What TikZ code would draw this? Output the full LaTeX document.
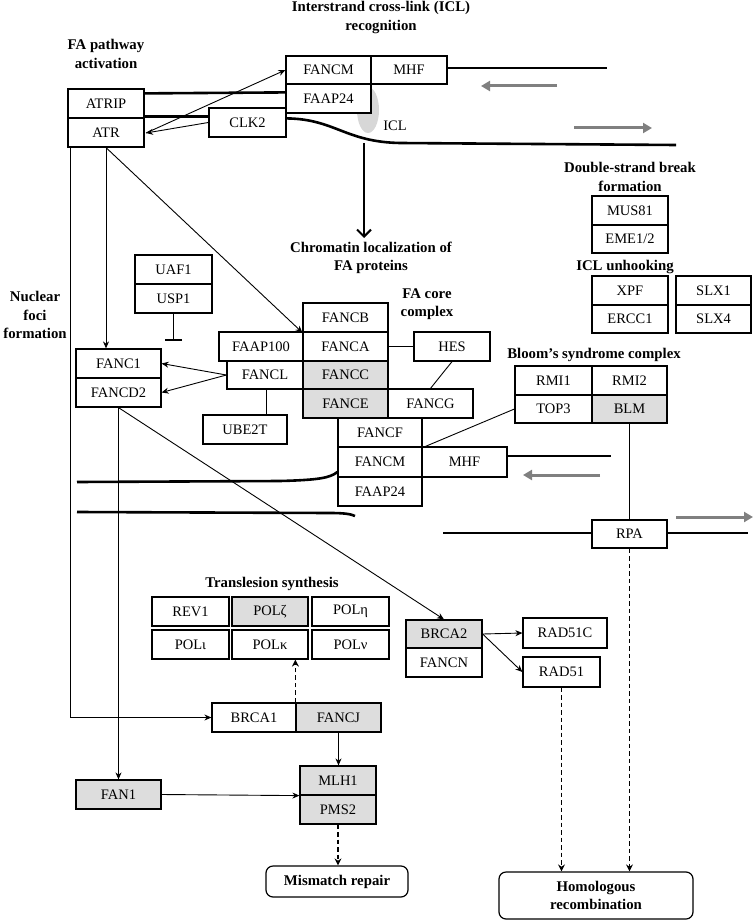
\documentclass[tikz,border=0pt]{standalone}
\usepackage{fontspec}
\setmainfont{Liberation Serif}
\usetikzlibrary{arrows.meta,calc}
\definecolor{boxgray}{RGB}{221,221,221}
\definecolor{arrowgray}{RGB}{128,128,128}
\definecolor{iclgray}{RGB}{215,215,215}
\newcommand\Bx[7]{%
 \pgfmathsetmacro\myW{#5-#3}\pgfmathsetmacro\myH{#6-#4}%
 \pgfmathsetmacro\myX{(#3+#5)/2}\pgfmathsetmacro\myY{(#4+#6)/2}%
 \node[#1,minimum width=\myW pt,minimum height=\myH pt] (#2) at (\myX,\myY) {#7};}
\tikzset{
 bx/.style={draw, line width=1.2pt, fill=white, inner sep=0pt, font=\fontsize{14.5}{17}\selectfont},
 gbx/.style={bx, fill=boxgray},
 rbx/.style={bx, rounded corners=7pt, font=\fontsize{14.8}{18.5}\selectfont\bfseries, align=center},
 lbl/.style={font=\fontsize{14.8}{18.5}\selectfont\bfseries, align=center, inner sep=0pt},
 con/.style={line width=0.9pt},
 arr/.style={con, -{Stealth[length=7pt,width=6pt]}},
 dsh/.style={line width=1.4pt, dash pattern=on 4.5pt off 3pt, -{Stealth[length=7pt,width=7pt]}},
 dna/.style={line width=2.6pt},
 garr/.style={draw=arrowgray, line width=3pt, -{Triangle[length=9pt,width=10pt]}},
}
\begin{document}
\begin{tikzpicture}[x=1pt,y=-1pt]
\useasboundingbox (0,0) rectangle (753,920);
% ICL ellipse
\fill[iclgray] (368,110) ellipse [x radius=11, y radius=23];
% labels
\node[lbl] (tICL) at (381,17.5) {Interstrand cross-link (ICL)\\recognition};
\node[lbl] (tFA) at (106,54) {FA pathway\\activation};
\node[lbl] (tDSB) at (630,177) {Double-strand break\\formation};
\node[lbl] (tUnh) at (625,267) {ICL unhooking};
\node[lbl] (tChrom) at (371,258) {Chromatin localization of\\FA proteins};
\node[lbl] (tNuc) at (35,315) {Nuclear\\foci\\formation};
\node[lbl] (tCore) at (427,304) {FA core\\complex};
\node[lbl] (tBloom) at (594,355) {Bloom’s syndrome complex};
\node[lbl] (tTLS) at (272,584) {Translesion synthesis};
\node[inner sep=0pt, font=\fontsize{14.5}{17}\selectfont] (tIclx) at (395,126) {ICL};
% boxes
\Bx{bx}{atrip}{68}{89}{144}{118}{ATRIP}
\Bx{bx}{atr}{68}{118}{144}{147}{ATR}
\Bx{bx}{fancmT}{286}{56}{371}{84}{FANCM}
\Bx{bx}{mhfT}{371}{56}{447}{84}{MHF}
\Bx{bx}{faapT}{286}{84}{371}{113}{FAAP24}
\Bx{bx}{clk2}{209}{108}{286}{137}{CLK2}
\Bx{bx}{mus81}{592}{196}{668}{225}{MUS81}
\Bx{bx}{eme}{592}{225}{668}{253}{EME1/2}
\Bx{bx}{xpf}{592}{276}{668}{305}{XPF}
\Bx{bx}{ercc1}{592}{305}{668}{333}{ERCC1}
\Bx{bx}{slx1}{676}{276}{751}{305}{SLX1}
\Bx{bx}{slx4}{676}{305}{751}{333}{SLX4}
\Bx{bx}{uaf1}{135}{255}{212}{284}{UAF1}
\Bx{bx}{usp1}{135}{284}{212}{313}{USP1}
\Bx{bx}{fancb}{303}{303}{388}{332}{FANCB}
\Bx{bx}{fanca}{303}{332}{388}{361}{FANCA}
\Bx{bx}{faap100}{219}{332}{303}{361}{FAAP100}
\Bx{bx}{fancl}{227}{361}{303}{389}{FANCL}
\Bx{gbx}{fancc}{303}{361}{388}{389}{FANCC}
\Bx{gbx}{fance}{303}{389}{388}{418}{FANCE}
\Bx{bx}{fancg}{388}{389}{473}{418}{FANCG}
\Bx{bx}{hes}{414}{332}{490}{361}{HES}
\Bx{bx}{fancf}{338}{418}{422}{447}{FANCF}
\Bx{bx}{fancmB}{338}{447}{422}{477}{FANCM}
\Bx{bx}{mhfB}{422}{447}{507}{477}{MHF}
\Bx{bx}{faapB}{338}{477}{422}{506}{FAAP24}
\Bx{bx}{ube2t}{203}{415}{287}{444}{UBE2T}
\Bx{bx}{fanci}{76}{349}{161}{378}{FANC1}
\Bx{bx}{fancd2}{76}{378}{161}{407}{FANCD2}
\Bx{bx}{rmi1}{515}{366}{592}{395}{RMI1}
\Bx{bx}{rmi2}{592}{366}{667}{395}{RMI2}
\Bx{bx}{top3}{515}{395}{592}{423}{TOP3}
\Bx{gbx}{blm}{592}{395}{667}{423}{BLM}
\Bx{bx}{rpa}{592}{520}{667}{548}{RPA}
\Bx{bx}{rev1}{152}{597}{229}{626}{REV1}
\Bx{gbx}{polz}{232}{597}{308}{626}{POLζ}
\Bx{bx}{polh}{312}{597}{389}{626}{POLη}
\Bx{bx}{poli}{152}{630}{229}{659}{POLι}
\Bx{bx}{polk}{232}{630}{308}{659}{POLκ}
\Bx{bx}{poln}{312}{630}{389}{659}{POLν}
\Bx{gbx}{brca2}{406}{620}{482}{648}{BRCA2}
\Bx{bx}{fancn}{406}{648}{482}{677}{FANCN}
\Bx{bx}{rad51c}{523}{618}{607}{648}{RAD51C}
\Bx{bx}{rad51}{523}{657}{600}{687}{RAD51}
\Bx{bx}{brca1}{212}{703}{296}{732}{BRCA1}
\Bx{gbx}{fancj}{296}{703}{381}{732}{FANCJ}
\Bx{gbx}{fan1}{76}{780}{161}{809}{FAN1}
\Bx{gbx}{mlh1}{300}{766}{376}{795}{MLH1}
\Bx{gbx}{pms2}{300}{795}{376}{824}{PMS2}
\Bx{rbx}{mmr}{266}{866}{408}{897}{Mismatch repair}
\Bx{rbx}{hr}{499}{872}{693}{919}{Homologous\\recombination}
% DNA strands
\coordinate (dnaT1) at (607,68);
\coordinate (dnaT2) at (676,145);
\draw[dna] ($(atrip.north east)+(0,5)$) -- ($(faapT.north west)+(0,9)$);
\draw[dna] ($(mhfT.east)+(0,-2)$) -- (dnaT1);
\draw[dna] ($(atr.north east)+(0,-1)$) -- ($(clk2.north west)+(0,9)$);
\draw[dna] ($(clk2.north east)+(0,11)$) .. controls (335,119) and (345,142) .. (400,143) -- (dnaT2);
\coordinate (dnaL1) at (77,482);
\coordinate (dnaL2) at (77,512);
\draw[dna] (dnaL1) -- (280,481) .. controls (318,480) and (330,478) .. ($(fancmB.west)+(0,10)$);
\draw[dna] (dnaL2) -- (330,513) .. controls (344,513) and (351,514) .. (355,516);
\coordinate (dnaM) at (611,456);
\draw[dna] ($(mhfB.east)+(0,-6)$) -- (dnaM);
\coordinate (dnaR1) at (443,533);
\coordinate (dnaR2) at (748,533);
\draw[dna] (dnaR1) -- (rpa.west |- dnaR1);
\draw[dna] (rpa.east |- dnaR2) -- (dnaR2);
% gray direction arrows
\coordinate (g1a) at (557,86); \coordinate (g1b) at (481,86);
\coordinate (g2a) at (574,128); \coordinate (g2b) at (652,128);
\coordinate (g3a) at (600,475); \coordinate (g3b) at (523,475);
\coordinate (g4a) at (676,517); \coordinate (g4b) at (753,517);
\draw[garr] (g1a) -- (g1b);
\draw[garr] (g2a) -- (g2b);
\draw[garr] (g3a) -- (g3b);
\draw[garr] (g4a) -- (g4b);
% big arrow ICL -> chromatin
\coordinate (bigA) at (364,143);
\coordinate (bigB) at (364,238);
\draw[line width=2pt, -{Straight Barb[length=7pt,width=14pt,line width=2pt]}] (bigA) -- (bigB);
% connectors
\coordinate (atrpt) at (146,133);
\draw[arr] (clk2.west) -- (atrpt);
\draw[arr] (atrpt) -- (fancmT.west);
\draw[arr] ($(atr.south west)+(3,0)$) |- (brca1.west);
\draw[arr] (atr.south) -- (atr.south |- fanci.north);
\draw[arr] (atr.south) -- (fancb.south west);
\coordinate (usptip) at ($(usp1.south)+(0,27)$);
\draw[con, -{Bar[width=17pt,line width=1.2pt]}] (usp1.south) -- (usptip);
\draw[arr] (fancl.west) -- (fanci.east);
\draw[arr] (fancl.west) -- (fancd2.east);
\coordinate (flS) at ($(fancl.south)+(1,0)$);
\draw[con] (flS) -- (flS |- ube2t.north);
\draw[con] (fanca.east) -- (hes.west);
\draw[con] (hes.south) -- (fancg.north);
\draw[con] (top3.west) -- (fancf.south east);
\draw[con] (blm.south) -- (rpa.north);
\draw[arr] (fancd2.south) -- (fan1.north);
\draw[arr] (fancd2.south) -- (brca2.north);
\draw[arr] (brca2.east) -- (rad51c.west);
\draw[arr] (brca2.east) -- (rad51.west);
\draw[dsh] (rad51.south) -- (rad51.south |- hr.north);
\draw[dsh] (rpa.south) -- (rpa.south |- hr.north);
\draw[dsh] (fancj.north west) -- (fancj.north west |- polk.south);
\draw[arr] (fancj.south) -- (fancj.south |- mlh1.north);
\draw[arr] (fan1.east) -- (mlh1.south west);
\draw[dsh] (pms2.south) -- (pms2.south |- mmr.north);
\end{tikzpicture}
\end{document}
